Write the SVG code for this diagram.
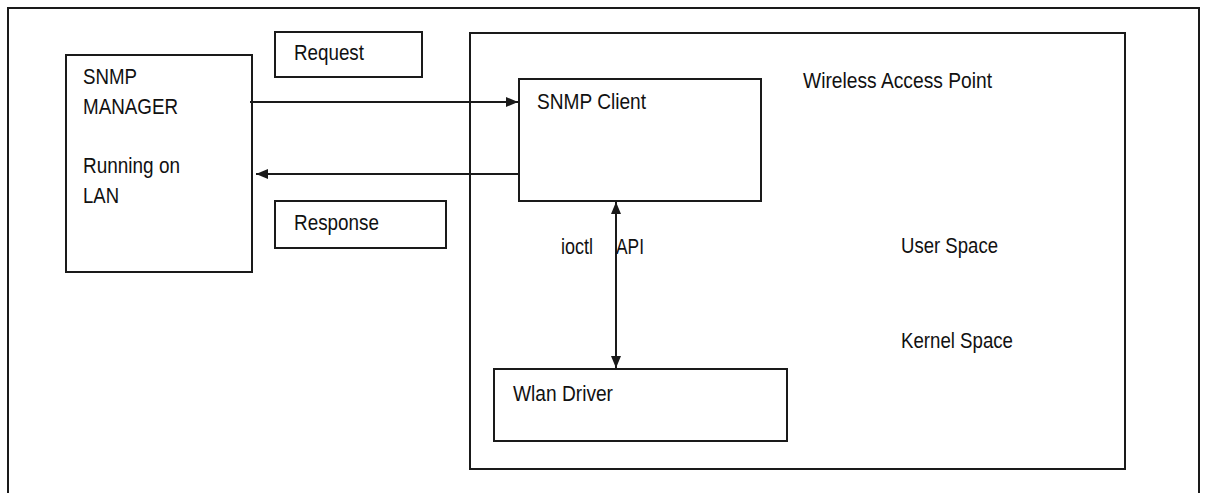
<svg xmlns="http://www.w3.org/2000/svg" width="1207" height="493" viewBox="0 0 1207 493">
<style>
.box{fill:none;stroke:#1a1a1a;stroke-width:2}
.ln{stroke:#1a1a1a;stroke-width:2;fill:none}
text{font-family:"Liberation Sans",Arial,sans-serif;font-size:21.5px;fill:#111}
</style>
<defs>
<marker id="ah" viewBox="0 0 12 10" refX="12" refY="5" markerWidth="12" markerHeight="10" markerUnits="userSpaceOnUse" orient="auto-start-reverse">
<path d="M0,0 L12,5 L0,10 z" fill="#1a1a1a"/>
</marker>
</defs>
<rect width="1207" height="493" fill="#fff"/>
<g id="frame"><path class="ln" d="M8,493 V8 H1199 V493"/></g>
<g id="manager">
<rect class="box" x="66" y="55" width="186" height="217"/>
<text x="83" y="84" textLength="54" lengthAdjust="spacingAndGlyphs">SNMP</text>
<text x="83" y="114" textLength="95" lengthAdjust="spacingAndGlyphs">MANAGER</text>
<text x="83" y="173" textLength="97" lengthAdjust="spacingAndGlyphs">Running on</text>
<text x="83" y="203" textLength="36" lengthAdjust="spacingAndGlyphs">LAN</text>
</g>
<g id="request">
<rect class="box" x="275" y="32" width="147" height="45"/>
<text x="294" y="60" textLength="70" lengthAdjust="spacingAndGlyphs">Request</text>
</g>
<g id="response">
<rect class="box" x="275" y="201" width="171" height="47"/>
<text x="294" y="230" textLength="85" lengthAdjust="spacingAndGlyphs">Response</text>
</g>
<g id="ap">
<rect class="box" x="470" y="33" width="655" height="436"/>
<text x="803" y="88" textLength="189" lengthAdjust="spacingAndGlyphs">Wireless Access Point</text>
<text x="901" y="253" textLength="97" lengthAdjust="spacingAndGlyphs">User Space</text>
<text x="901" y="348" textLength="112" lengthAdjust="spacingAndGlyphs">Kernel Space</text>
</g>
<g id="client">
<rect class="box" x="519" y="79" width="242" height="122"/>
<text x="537" y="109" textLength="109" lengthAdjust="spacingAndGlyphs">SNMP Client</text>
</g>
<g id="driver">
<rect class="box" x="494" y="369" width="293" height="72"/>
<text x="513" y="401" textLength="100" lengthAdjust="spacingAndGlyphs">Wlan Driver</text>
</g>
<g id="connectors">
<line class="ln" x1="250" y1="102" x2="518" y2="102" marker-end="url(#ah)"/>
<line class="ln" x1="519" y1="174" x2="256" y2="174" marker-end="url(#ah)"/>
<line class="ln" x1="616" y1="202" x2="616" y2="368" marker-start="url(#ah)" marker-end="url(#ah)"/>
<text x="561" y="254" textLength="32" lengthAdjust="spacingAndGlyphs">ioctl</text>
<text x="616" y="254" textLength="28" lengthAdjust="spacingAndGlyphs">API</text>
</g>
</svg>
